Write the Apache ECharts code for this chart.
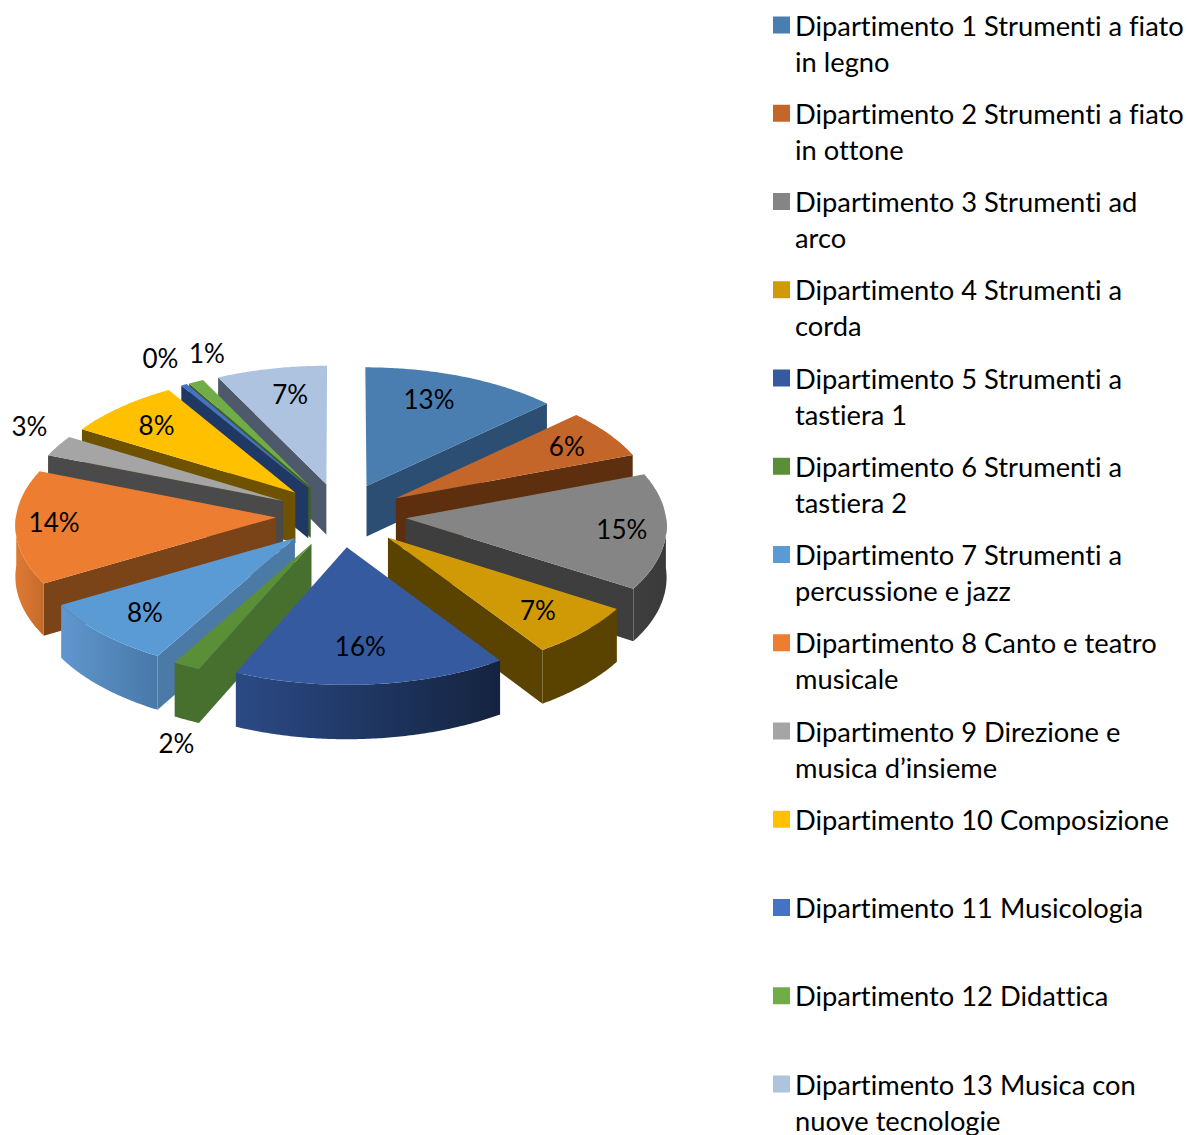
<!DOCTYPE html>
<html>
<head>
<meta charset="utf-8">
<style>html,body{margin:0;padding:0;background:#fff}#chart{width:1187px;height:1135px}text{font-variant-ligatures:none}</style>
<script src="https://cdn.jsdelivr.net/npm/echarts@6/dist/echarts.min.js"></script>
</head>
<body>
<div id="chart"></div>
<script>
var departments = [
    'Dipartimento 1 Strumenti a fiato\nin legno',
    'Dipartimento 2 Strumenti a fiato\nin ottone',
    'Dipartimento 3 Strumenti ad\narco',
    'Dipartimento 4 Strumenti a\ncorda',
    'Dipartimento 5 Strumenti a\ntastiera 1',
    'Dipartimento 6 Strumenti a\ntastiera 2',
    'Dipartimento 7 Strumenti a\npercussione e jazz',
    'Dipartimento 8 Canto e teatro\nmusicale',
    'Dipartimento 9 Direzione e\nmusica d\u2019insieme',
    'Dipartimento 10 Composizione',
    'Dipartimento 11 Musicologia',
    'Dipartimento 12 Didattica',
    'Dipartimento 13 Musica con\nnuove tecnologie'
];
var shares = [13, 6.3, 14.7, 6.6, 16, 1.6, 8.4, 14.4, 2.7, 7.6, 0.4, 1, 7.3];

var topColors = ['#4A7EB0', '#C4652A', '#858585', '#CF9A05', '#355AA0', '#5A8F38', '#5B9BD5',
                 '#ED7D31', '#A5A5A5', '#FFC000', '#4472C4', '#70AD47', '#ADC3E0'];
var wallColors = ['#2D4E73', '#5E2F0E', '#3E3E3E', '#5A4300', '#1F3864', '#47702F', '#4B7AA6',
                  '#7A4318', '#4A4A4A', '#6E5200', '#1F3864', '#3F5E28', '#4E5A6B'];
var rimColors = [['#2D4E73', '#2D4E73'], ['#5E2F0E', '#5E2F0E'], ['#3E3E3E', '#3A3A3A'], ['#5A4300', '#5A4300'],
                 ['#2B4A86', '#14233F'], ['#47702F', '#47702F'], ['#6097CE', '#4878A8'], ['#E07A33', '#C46B2B'],
                 ['#4A4A4A', '#4A4A4A'], ['#6E5200', '#6E5200'], ['#1F3864', '#1F3864'], ['#3F5E28', '#3F5E28'],
                 ['#4E5A6B', '#4E5A6B']];

// label spot relative to the slice: radius as a share of the pie, turn in degrees off the bisector
var labelRadius = [0.765, 0.8, 0.83, 0.775, 0.73, 1.157, 0.78, 0.852, 1.188, 0.79, 1.26, 1.22, 0.768];
var labelTurn = [-3.9, 0.1, 0, 0.4, 1.2, -2.1, 0.3, 2, 4.6, 0, 1.5, 7.3, 2];

var view = {cx: 341, cy: 515, rx: 260, ry: 127.5, depth: 51, tilt: 0.05, explode: 0.25};
var labelFont = 'Lato, Carlito, sans-serif';

var total = shares.reduce(function(a, b){return a + b}, 0);
var starts = [];
shares.reduce(function(sum, v, i){
    starts[i] = sum;
    return sum + v;
}, 0);

function project(u, v, drop){
    var s = 1 / (1 + view.tilt * v);
    return [view.cx + view.rx * u * s, view.cy - view.ry * v * s + (drop || 0) * s];
}

function render_slice(index){
    return function(params, api){
        var share = api.value(0);
        var a0 = starts[index] / total * 2 * Math.PI;
        var a1 = a0 + share / total * 2 * Math.PI;
        var mid = (a0 + a1) / 2;
        var ou = view.explode * Math.sin(mid);
        var ov = view.explode * Math.cos(mid);

        var point = function(a, drop){
            return project(ou + Math.sin(a), ov + Math.cos(a), drop);
        };
        var apex = project(ou, ov, 0);
        var apexLow = project(ou, ov, view.depth);
        var children = [];

        if (Math.sin(a0) < 0){
            children.push({type: 'polygon', shape: {points: [apex, point(a0, 0), point(a0, view.depth), apexLow]},
                           style: {fill: wallColors[index]}});
        }
        if (Math.sin(a1) > 0){
            children.push({type: 'polygon', shape: {points: [apex, point(a1, 0), point(a1, view.depth), apexLow]},
                           style: {fill: wallColors[index]}});
        }

        var arc = [];
        var steps = Math.max(2, Math.ceil((a1 - a0) / 0.01));
        for (var i = 0; i <= steps; i++){
            arc.push(a0 + (a1 - a0) * i / steps);
        }

        var front = arc.filter(function(a){return Math.cos(a) <= 0.02});
        if (front.length > 1){
            var rim = front.map(function(a){return point(a, 0)});
            front.slice().reverse().forEach(function(a){rim.push(point(a, view.depth))});
            children.push({type: 'polygon', shape: {points: rim},
                           style: {fill: new echarts.graphic.LinearGradient(0, 0, 1, 0, [
                               {offset: 0, color: rimColors[index][0]},
                               {offset: 1, color: rimColors[index][1]}
                           ])}});
        }

        var face = [apex].concat(arc.map(function(a){return point(a, 0)}));
        children.push({type: 'polygon', shape: {points: face}, style: {fill: topColors[index]}});

        var la = mid + labelTurn[index] * Math.PI / 180;
        var lr = labelRadius[index];
        var spot = project(ou + lr * Math.sin(la), ov + lr * Math.cos(la), lr > 1 && Math.cos(la) < 0 ? view.depth : 0);
        children.push({type: 'text', style: {
            x: spot[0], y: spot[1], text: Math.round(share / total * 100) + '%',
            align: 'center', verticalAlign: 'middle', fill: '#000',
            fontFamily: labelFont, fontSize: 26
        }});

        return {type: 'group', children: children};
    };
}

// back slices paint first, the exploded slices overlap like that
var order = shares.map(function(v, i){
    return {i: i, depth: Math.cos((starts[i] + v / 2) / total * 2 * Math.PI)};
}).sort(function(a, b){return b.depth - a.depth});

var series = [];
departments.forEach(function(name, i){
    var rank = order.findIndex(function(o){return o.i == i});
    series.push({
        name: name,
        type: 'custom',
        coordinateSystem: 'none',
        renderItem: render_slice(i),
        itemStyle: {color: topColors[i]},
        data: [[shares[i]]],
        z: 2 + rank,
        silent: true
    });
});

var legend = {
    orient: 'vertical',
    left: 773,
    top: -29,
    height: 1400,
    padding: 0,
    icon: 'rect',
    itemWidth: 17,
    itemHeight: 17,
    itemGap: -19.75,
    selectedMode: false,
    z: 50,
    align: 'left',
    data: departments,
    textStyle: {fontFamily: labelFont, fontSize: 27.3, lineHeight: 36, color: '#000'},
    formatter: function(name){
        // blank first line keeps the marker level with the first text line
        var lines = name.split('\n');
        return '\n' + lines[0] + '\n' + (lines[1] || ' ');
    }
};

var myChart = echarts.init(document.getElementById('chart'), null, {renderer: 'svg'});
myChart.setOption({
    animation: false,
    backgroundColor: '#fff',
    legend: legend,
    series: series
});
</script>
</body>
</html>
